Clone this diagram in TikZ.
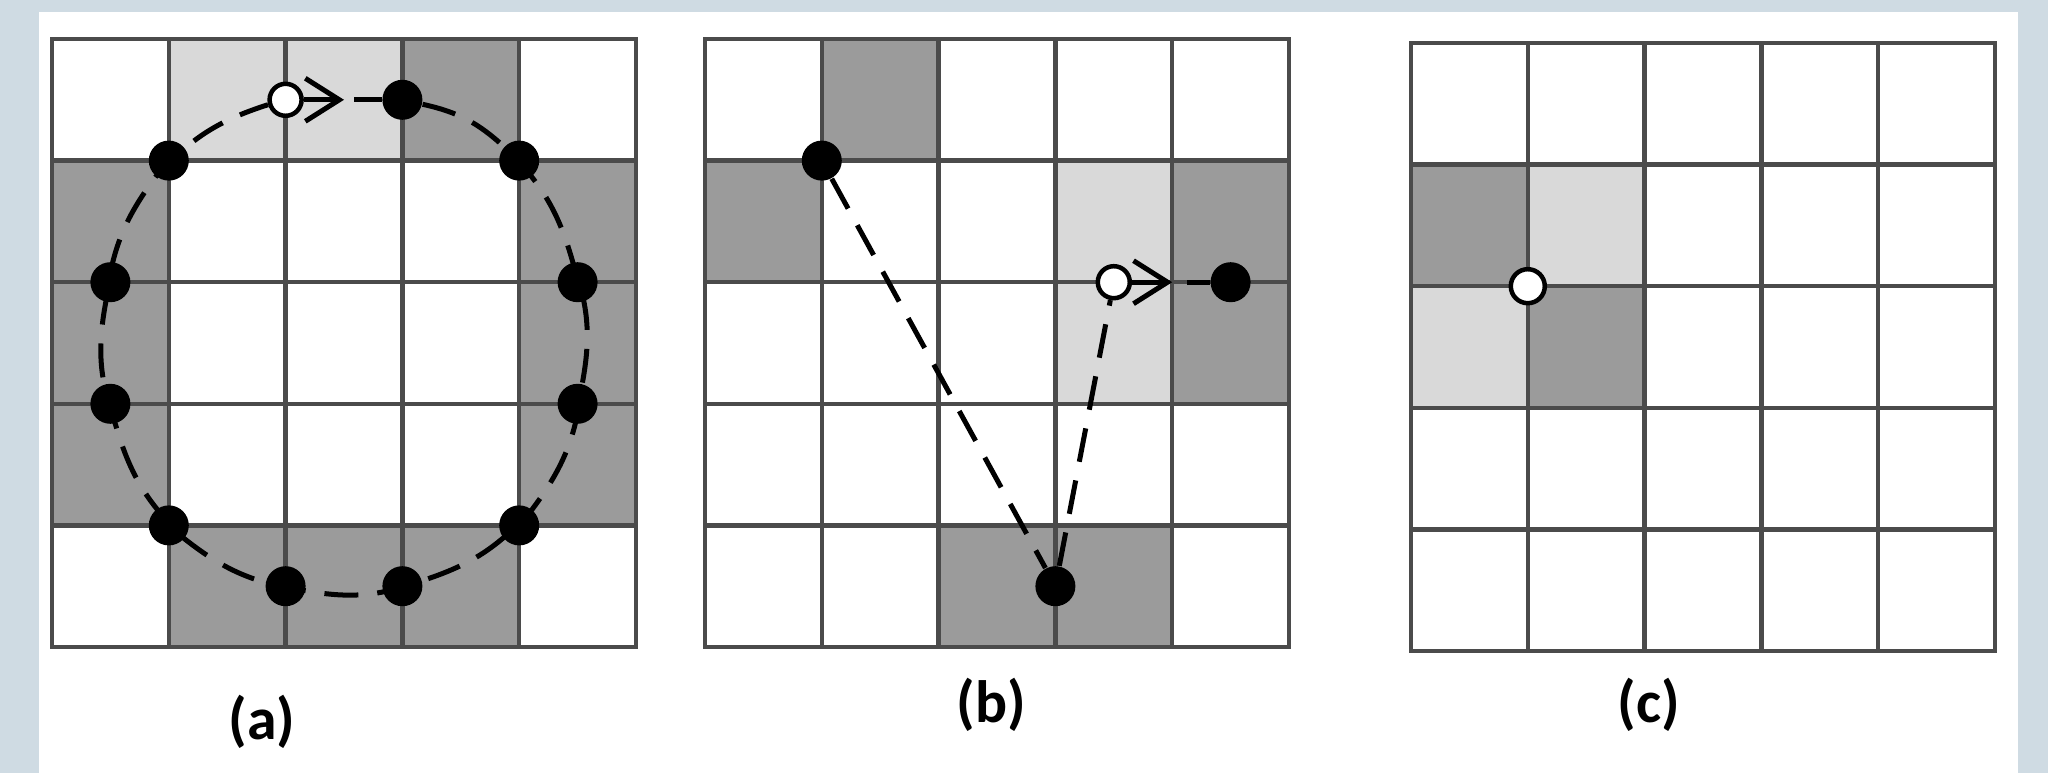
\documentclass[tikz,border=0pt]{standalone}
\usepackage{fontspec}
\setmainfont{Carlito}
\usepackage{xcolor}
\usepackage{tikz}
\usetikzlibrary{arrows.meta}
\definecolor{slidebg}{RGB}{207,219,227}
\definecolor{gridgray}{RGB}{75,75,75}
\definecolor{cellgray}{RGB}{155,155,155}
\definecolor{cellpale}{RGB}{217,217,217}
\tikzset{
  dkcell/.style={fill=cellgray},
  ltcell/.style={fill=cellpale},
  gridline/.style={draw=gridgray, line width=0.45mm},
  dot/.style={circle, fill=black, minimum size=4mm, inner sep=0pt},
  opendot/.style={circle, draw=black, fill=white, line width=0.45mm,
                  minimum size=3.2mm, inner sep=0pt},
  trail/.style={black, line width=0.5mm, dash pattern=on 3.4mm off 1.9mm},
  move/.style={black, line width=0.5mm, -{Straight Barb[length=3.4mm, width=4.3mm]}},
  lbl/.style={font=\fontsize{17}{20}\selectfont\bfseries}
}

\begin{document}
\begin{tikzpicture}
  \fill[slidebg] (0,0) rectangle (20.48,7.73);
  \fill[white] (0.39,0) rectangle (20.18,7.61);

  % (a) circle of cells
  \begin{scope}[shift={(0.52,7.34)}, x=1.168cm, y=-1.216cm]
    \fill[ltcell] (1,0) rectangle (3,1);
    \fill[dkcell] (3,0) rectangle (4,1);
    \fill[dkcell] (0,1) rectangle (1,4);
    \fill[dkcell] (4,1) rectangle (5,4);
    \fill[dkcell] (1,4) rectangle (4,5);
    \foreach \i in {1,...,4} {
      \draw[gridline] (\i,0) -- (\i,5);
      \draw[gridline] (0,\i) -- (5,\i);
    }
    \draw[gridline] (0,0) rectangle (5,5);
    \node[opendot] (a0) at (2,0.5) {};
    \node[dot] (a1) at (3,0.5) {};
    \node[dot] (a2) at (4,1) {};
    \node[dot] (a3) at (4.5,2) {};
    \node[dot] (a4) at (4.5,3) {};
    \node[dot] (a5) at (4,4) {};
    \node[dot] (a6) at (3,4.5) {};
    \node[dot] (a7) at (2,4.5) {};
    \node[dot] (a8) at (1,4) {};
    \node[dot] (a9) at (0.5,3) {};
    \node[dot] (a10) at (0.5,2) {};
    \node[dot] (a11) at (1,1) {};
    \coordinate (atip) at (2.5,0.5);
    \draw[trail] (a1) to[bend left=15] (a2) to[bend left=15] (a3)
      to[bend left=15] (a4) to[bend left=15] (a5) to[bend left=15] (a6)
      to[bend left=15] (a7) to[bend left=15] (a8) to[bend left=15] (a9)
      to[bend left=15] (a10) to[bend left=15] (a11) to[bend left=15] (a0);
    \draw[move] (a0) -- (atip);
    \draw[trail, shorten <=1mm] (atip) -- (a1);
  \end{scope}

  % (b) jumps
  \begin{scope}[shift={(7.05,7.34)}, x=1.168cm, y=-1.216cm]
    \fill[dkcell] (1,0) rectangle (2,1);
    \fill[dkcell] (0,1) rectangle (1,2);
    \fill[ltcell] (3,1) rectangle (4,3);
    \fill[dkcell] (4,1) rectangle (5,3);
    \fill[dkcell] (2,4) rectangle (4,5);
    \foreach \i in {1,...,4} {
      \draw[gridline] (\i,0) -- (\i,5);
      \draw[gridline] (0,\i) -- (5,\i);
    }
    \draw[gridline] (0,0) rectangle (5,5);
    \node[dot] (b1) at (1,1) {};
    \node[dot] (b2) at (3,4.5) {};
    \node[opendot] (b0) at (3.5,2) {};
    \node[dot] (b3) at (4.5,2) {};
    \coordinate (btip) at (4,2);
    \draw[trail] (b1) -- (b2) -- (b0);
    \draw[move] (b0) -- (btip);
    \draw[trail, shorten <=1.5mm] (btip) -- (b3);
  \end{scope}

  % (c) corner
  \begin{scope}[shift={(14.11,7.30)}, x=1.168cm, y=-1.216cm]
    \fill[dkcell] (0,1) rectangle (1,2);
    \fill[ltcell] (1,1) rectangle (2,2);
    \fill[ltcell] (0,2) rectangle (1,3);
    \fill[dkcell] (1,2) rectangle (2,3);
    \foreach \i in {1,...,4} {
      \draw[gridline] (\i,0) -- (\i,5);
      \draw[gridline] (0,\i) -- (5,\i);
    }
    \draw[gridline] (0,0) rectangle (5,5);
    \node[opendot, minimum size=3.4mm] (c0) at (1,2) {};
  \end{scope}

  \node[lbl] (la) at (2.62,0.51) {(a)};
  \node[lbl] (lb) at (9.91,0.68) {(b)};
  \node[lbl] (lc) at (16.49,0.68) {(c)};
\end{tikzpicture}
\end{document}
